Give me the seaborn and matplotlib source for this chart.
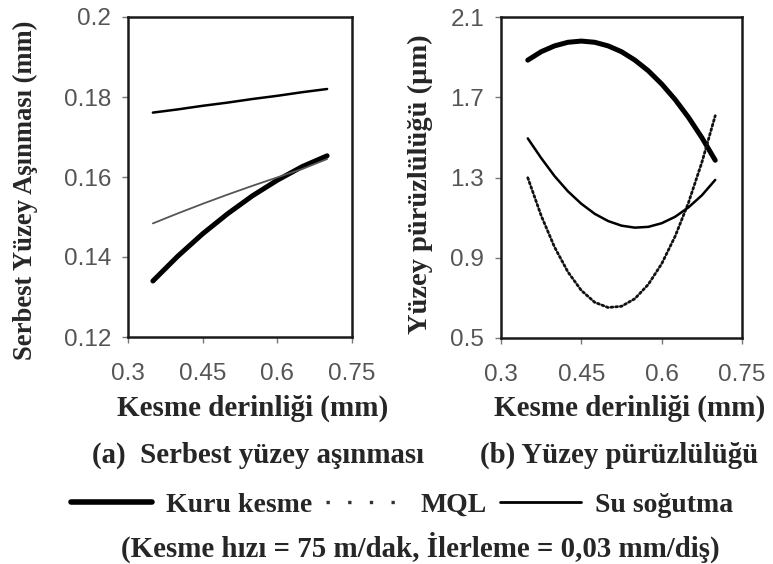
import matplotlib
matplotlib.use("Agg")
import matplotlib.pyplot as plt
from matplotlib.lines import Line2D
import seaborn as sns
import pandas as pd

# Cutting depth (mm) sampled along each fitted response curve
depth_a = [0.35, 0.40, 0.45, 0.50, 0.55, 0.60, 0.65, 0.70]
depth_b = [0.35, 0.375, 0.40, 0.425, 0.45, 0.475, 0.50, 0.525,
           0.55, 0.575, 0.60, 0.625, 0.65, 0.675, 0.70]

# (a) flank wear (mm)
wear_kuru = [0.1340, 0.1402, 0.1458, 0.1508, 0.1553, 0.1592, 0.1626, 0.1653]
wear_mql = [0.1484, 0.1509, 0.1533, 0.1556, 0.1578, 0.1599, 0.1620, 0.1645]
wear_su = [0.1761, 0.1769, 0.1778, 0.1786, 0.1795, 0.1803, 0.1812, 0.1820]

# (b) surface roughness (um)
rough_kuru = [1.885, 1.927, 1.956, 1.974, 1.980, 1.974, 1.956, 1.927,
              1.885, 1.832, 1.766, 1.689, 1.600, 1.499, 1.386]
rough_mql = [1.299, 1.110, 0.953, 0.829, 0.737, 0.678, 0.652, 0.658,
             0.696, 0.767, 0.870, 1.006, 1.174, 1.375, 1.608]
rough_su = [1.495, 1.397, 1.307, 1.231, 1.169, 1.119, 1.083, 1.060,
            1.050, 1.054, 1.072, 1.104, 1.151, 1.211, 1.288]

x_ticks = [0.3, 0.45, 0.6, 0.75]
y_ticks_a = [0.12, 0.14, 0.16, 0.18, 0.2]
y_ticks_b = [0.5, 0.9, 1.3, 1.7, 2.1]
legend_labels = ["Kuru kesme", "MQL", "Su soğutma"]

sns.set_theme(style="white")
plt.rcParams["font.family"] = ["Liberation Sans", "DejaVu Sans"]

SERIF = ["Liberation Serif", "DejaVu Serif"]
TICK_COLOR = "#555555"

styles = {
    "Kuru kesme": dict(color="black", lw=3.6, ls="-"),
    "MQL": dict(color="#111111", lw=2.0, ls=(0, (0.7, 1.0))),
    "Su soğutma": dict(color="black", lw=1.8, ls="-"),
}

fig = plt.figure(figsize=(7.73, 5.64), dpi=100)
W, H = 773, 564


def box(l, t, r, b):
    return [l / W, 1 - b / H, (r - l) / W, (b - t) / H]


ax_a = fig.add_axes(box(128, 17, 352, 337))
ax_b = fig.add_axes(box(501, 17, 742, 338))

df_a = pd.DataFrame({"depth": depth_a * 3,
                     "value": wear_kuru + wear_mql + wear_su,
                     "mode": [m for m in legend_labels for _ in depth_a]})
df_b = pd.DataFrame({"depth": depth_b * 3,
                     "value": rough_kuru + rough_mql + rough_su,
                     "mode": [m for m in legend_labels for _ in depth_b]})

for ax, df in ((ax_a, df_a), (ax_b, df_b)):
    for mode in legend_labels:
        st = dict(styles[mode])
        if ax is ax_a and mode == "MQL":
            st.update(lw=1.3, color="#555555", ls="-")
        sns.lineplot(data=df[df["mode"] == mode], x="depth", y="value",
                     ax=ax, color=st["color"], linewidth=st["lw"],
                     linestyle=st["ls"], legend=False,
                     solid_capstyle="round", dash_capstyle="round")

ax_a.set_xlim(0.3, 0.75)
ax_a.set_ylim(0.12, 0.2)
ax_a.set_yticks(y_ticks_a)
ax_a.set_yticklabels(["0.12", "0.14", "0.16", "0.18", "0.2"])
ax_b.set_xlim(0.3, 0.75)
ax_b.set_ylim(0.5, 2.1)
ax_b.set_yticks(y_ticks_b)
ax_b.set_yticklabels(["0.5", "0.9", "1.3", "1.7", "2.1"])

for ax in (ax_a, ax_b):
    ax.set_xticks(x_ticks)
    ax.set_xticklabels(["0.3", "0.45", "0.6", "0.75"])
    for sp in ax.spines.values():
        sp.set_visible(True)
        sp.set_color("#1a1a1a")
        sp.set_linewidth(1.8)
    ax.tick_params(axis="both", which="major", direction="out", length=4,
                   width=1.0, color="#777777", labelsize=17.5,
                   labelcolor=TICK_COLOR, left=True, bottom=True)
    ax.tick_params(axis="x", pad=15)
    ax.tick_params(axis="y", pad=8)
    ax.grid(False)

ax_a.set_xlabel("Kesme derinliği (mm)", fontsize=21, fontweight="bold",
                family=SERIF)
ax_a.set_ylabel("Serbest Yüzey Aşınması (mm)", fontsize=19.2,
                fontweight="bold", family=SERIF)
ax_b.set_xlabel("Kesme derinliği (mm)", fontsize=21, fontweight="bold",
                family=SERIF)
ax_b.set_ylabel("Yüzey pürüzlülüğü (µm)", fontsize=20.5,
                fontweight="bold", family=SERIF)

ax_a.xaxis.set_label_coords((253 - 128) / 224, (337 - 395) / 320)
ax_b.xaxis.set_label_coords((630 - 501) / 241, (338 - 395) / 321)
ax_a.yaxis.set_label_coords((25 - 128) / 224, (337 - 190) / 320)
ax_b.yaxis.set_label_coords((420 - 501) / 241, (338 - 184) / 321)
ax_a.yaxis.label.set_va("center")
ax_b.yaxis.label.set_va("center")

fig.text(258 / W, 1 - 455 / H, "(a)  Serbest yüzey aşınması",
         ha="center", va="center", fontsize=20.8, fontweight="bold",
         family=SERIF)
fig.text(619 / W, 1 - 455 / H, "(b) Yüzey pürüzlülüğü",
         ha="center", va="center", fontsize=20.8, fontweight="bold",
         family=SERIF)

handles = [
    Line2D([], [], color="black", lw=4.0),
    Line2D([], [], color="#333333", lw=2.4, ls=(0, (1.0, 5.5))),
    Line2D([], [], color="black", lw=2.0),
]
fig.legend(handles, legend_labels, loc="center",
           bbox_to_anchor=(402 / W, 1 - 505 / H), ncol=3, frameon=False,
           prop={"family": SERIF, "weight": "bold", "size": 20},
           handlelength=2.9, handletextpad=0.5, columnspacing=0.5,
           borderaxespad=0, borderpad=0)

fig.text(420 / W, 1 - 547 / H,
         "(Kesme hızı = 75 m/dak, İlerleme = 0,03 mm/diş)",
         ha="center", va="center", fontsize=20.8, fontweight="bold",
         family=SERIF)

fig.savefig("out.png", dpi=100)
